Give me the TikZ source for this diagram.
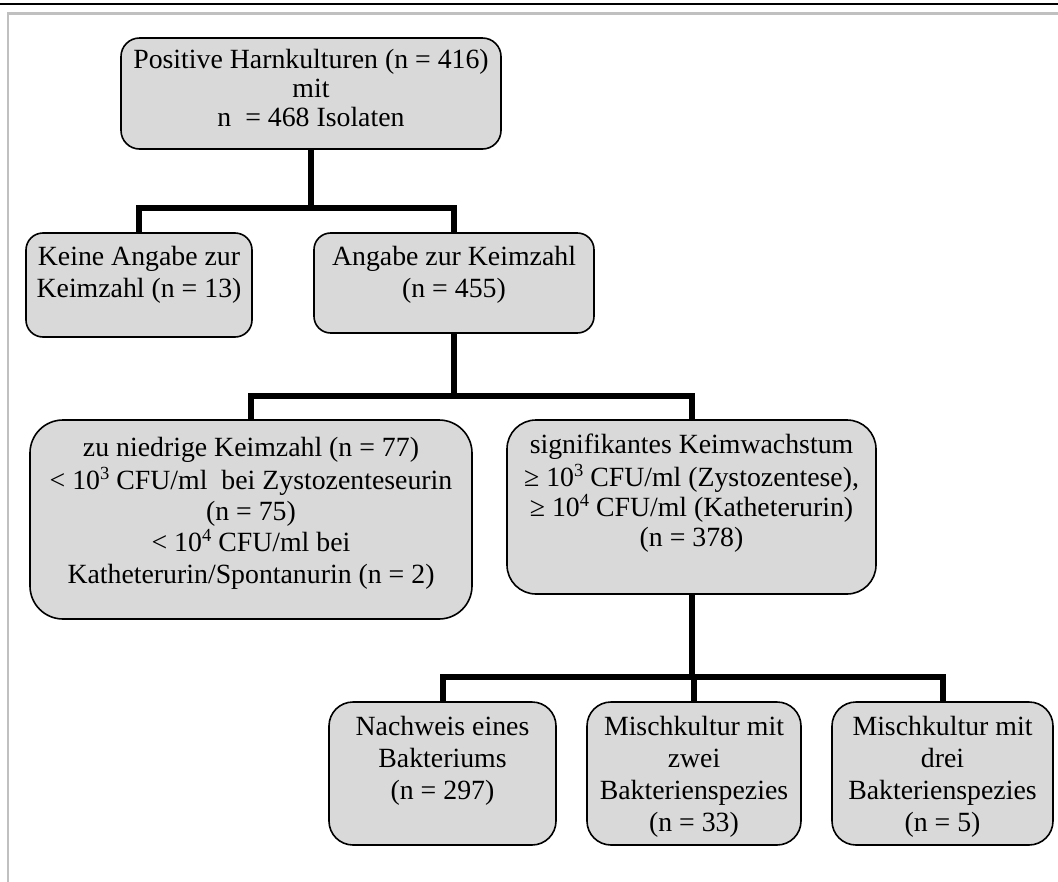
\documentclass[tikz,border=0pt]{standalone}
\usepackage{fontspec}
\setmainfont{Liberation Serif}
\definecolor{boxgray}{RGB}{217,217,217}
\definecolor{framegray}{RGB}{192,192,192}
\newcommand\mysup[1]{\raisebox{0.36em}{\fontsize{13.9pt}{13.9pt}\selectfont #1}}
\begin{document}
\begin{tikzpicture}[x=0.75pt,y=-0.75pt,
  box/.style n args={3}{draw=black, line width=1.2pt, fill=boxgray, inner sep=0pt, outer sep=0pt,
    minimum width=#1, minimum height=#2, rounded corners=#3},
  txt/.style={align=center, anchor=north, inner sep=0pt, outer sep=0pt,
    font=\fontsize{20.85pt}{24pt}\selectfont},
  conn/.style={draw=black, line width=4.5pt}]
\useasboundingbox (0,0) rectangle (1058,882);
% page frame
\draw[line width=2pt] (0,4) -- (1058,4);
\draw[framegray, line width=1.6pt] (8,882) -- (8,13.5) -- (1058,13.5);

% boxes
\node[box={285pt}{83.25pt}{13.9pt}] (T) at (311,93.5) {};
\node[box={169.5pt}{78pt}{12.75pt}] (K) at (139,285) {};
\node[box={210pt}{75pt}{12.5pt}] (A) at (454,283) {};
\node[box={331.5pt}{149.25pt}{24.75pt}] (Z) at (251,519.5) {};
\node[box={276.75pt}{130.5pt}{21.75pt}] (S) at (691.5,507) {};
\node[box={170.25pt}{107.25pt}{18pt}] (B1) at (442.5,773.5) {};
\node[box={160.5pt}{107.25pt}{18pt}] (B2) at (694,773.5) {};
\node[box={165.75pt}{107.25pt}{18pt}] (B3) at (942.5,773.5) {};

% texts
\node[txt, yshift=-7.2pt, font=\fontsize{20.85pt}{22pt}\selectfont] (Tt) at (T.north) {\strut Positive Harnkulturen (n = 416)\\ mit\\ n~ = 468 Isolaten};
\node[txt, yshift=-7.2pt] (Kt) at (K.north) {\strut Keine Angabe zur\\ Keimzahl (n = 13)};
\node[txt, yshift=-7.2pt] (At) at (A.north) {\strut Angabe zur Keimzahl\\ (n = 455)};
\node[txt, yshift=-11pt, font=\fontsize{20.85pt}{23.4pt}\selectfont] (Zt) at (Z.north) {\strut zu niedrige Keimzahl (n = 77)\\ < 10\mysup{3} CFU/ml~ bei Zystozenteseurin\\ (n = 75)\\ < 10\mysup{4} CFU/ml bei\\ Katheterurin/Spontanurin (n = 2)};
\node[txt, yshift=-9.5pt, font=\fontsize{20.85pt}{22.5pt}\selectfont] (St) at (S.north) {\strut signifikantes Keimwachstum\\ ≥ 10\mysup{3} CFU/ml (Zystozentese),\\ ≥ 10\mysup{4} CFU/ml (Katheterurin)\\ (n = 378)};
\node[txt, yshift=-8.25pt] (B1t) at (B1.north) {\strut Nachweis eines\\ Bakteriums\\ (n = 297)};
\node[txt, yshift=-8.25pt] (B2t) at (B2.north) {\strut Mischkultur mit\\ zwei\\ Bakterienspezies\\ (n = 33)};
\node[txt, yshift=-8.25pt] (B3t) at (B3.north) {\strut Mischkultur mit\\ drei\\ Bakterienspezies\\ (n = 5)};

% junctions
\coordinate (j1) at (311,208);
\coordinate (j2) at (454,396);
\coordinate (j3) at (691.5,677);

% connectors
\draw[conn] (T.south) -- (j1);
\draw[conn] (K.north) |- (j1) -| (A.north);
\draw[conn] (A.south) -- (j2);
\draw[conn] (Z.north) |- (j2) -| (S.north);
\draw[conn] (S.south) -- (j3);
\draw[conn] (B1.north) |- (j3) -| (B3.north);
\draw[conn] (B2.north) -- (B2.north |- j3);
\end{tikzpicture}
\end{document}
